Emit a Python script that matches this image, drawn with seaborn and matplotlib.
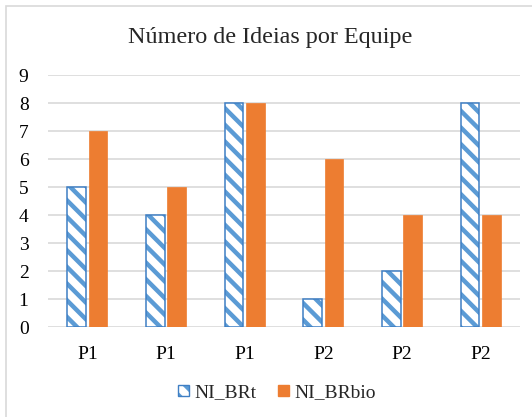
import matplotlib
matplotlib.use("Agg")
import matplotlib.pyplot as plt
from matplotlib.patches import Patch, Rectangle
from matplotlib.colors import to_rgba
import seaborn as sns
import pandas as pd

# Chart data
categories = ["P1", "P1", "P1", "P2", "P2", "P2"]
series_names = ["NI_BRt", "NI_BRbio"]
ni_brt = [5, 4, 8, 1, 2, 8]
ni_brbio = [7, 5, 8, 6, 4, 4]
y_ticks = [0, 1, 2, 3, 4, 5, 6, 7, 8, 9]
title = "Número de Ideias por Equipe"

BLUE_EDGE = "#3F7FC4"
BLUE_HATCH = "#5B9BD5"
ORANGE = "#ED7D31"
GRID = "#D9D9D9"

sns.set_theme(style="white")
plt.rcParams["font.family"] = ["Liberation Serif", "DejaVu Serif"]
plt.rcParams["hatch.linewidth"] = 3.2

slots = list(range(len(categories)))
df = pd.DataFrame({
    "slot": slots * 2,
    "value": ni_brt + ni_brbio,
    "series": [series_names[0]] * len(slots) + [series_names[1]] * len(slots),
})

fig = plt.figure(figsize=(5.32, 4.17), dpi=100)
W, H = 532, 417
ax = fig.add_axes([48 / W, 1 - 327 / H, (520 - 48) / W, (327 - 75) / H])

sns.barplot(data=df, x="slot", y="value", hue="series", order=slots,
            hue_order=series_names, palette=[BLUE_HATCH, ORANGE],
            width=0.54, gap=0.13, legend=False, ax=ax, errorbar=None)

n = len(slots)
for i, bar in enumerate(ax.patches[:2 * n]):
    if i < n:
        bar.set_facecolor("white")
        bar.set_edgecolor(BLUE_EDGE)
        bar.set_linewidth(1.1)
        bar.set_hatch("\\\\")
        bar._hatch_color = to_rgba(BLUE_HATCH)
    else:
        bar.set_facecolor(ORANGE)
        bar.set_edgecolor(ORANGE)
        bar.set_linewidth(0.5)

ax.set_ylim(0, 9)
ax.set_xlim(-0.5, n - 0.5)
ax.set_yticks(y_ticks)
ax.set_yticklabels([str(t) for t in y_ticks])
ax.set_xticks(slots)
ax.set_xticklabels(categories)
ax.set_xlabel("")
ax.set_ylabel("")
ax.tick_params(axis="both", length=0, labelsize=14, colors="black")
ax.tick_params(axis="y", pad=14)
ax.tick_params(axis="x", pad=14)
ax.yaxis.grid(True, color=GRID, linewidth=1.2)
ax.set_axisbelow(True)
for s in ax.spines.values():
    s.set_visible(False)

fig.text(270 / W, 1 - 38 / H, title, ha="center", va="center", fontsize=17.4)

handles = [
    Patch(facecolor="white", edgecolor=BLUE_EDGE, hatch="\\\\", linewidth=1.0, label=series_names[0]),
    Patch(facecolor=ORANGE, edgecolor=ORANGE, label=series_names[1]),
]
leg = fig.legend(handles=handles, loc="center", bbox_to_anchor=(277 / W, 1 - 393 / H),
                 ncol=2, frameon=False, fontsize=14, handlelength=0.55, handleheight=0.55,
                 handletextpad=0.3, columnspacing=1.1, borderaxespad=0)
for h in leg.legend_handles[:1]:
    h._hatch_color = to_rgba(BLUE_HATCH)

fig.patches.append(Rectangle((6 / W, -0.1), 2, 1.1 - 6 / H, transform=fig.transFigure,
                             fill=False, edgecolor=GRID, linewidth=1.2))

fig.savefig("out.png", dpi=100)
